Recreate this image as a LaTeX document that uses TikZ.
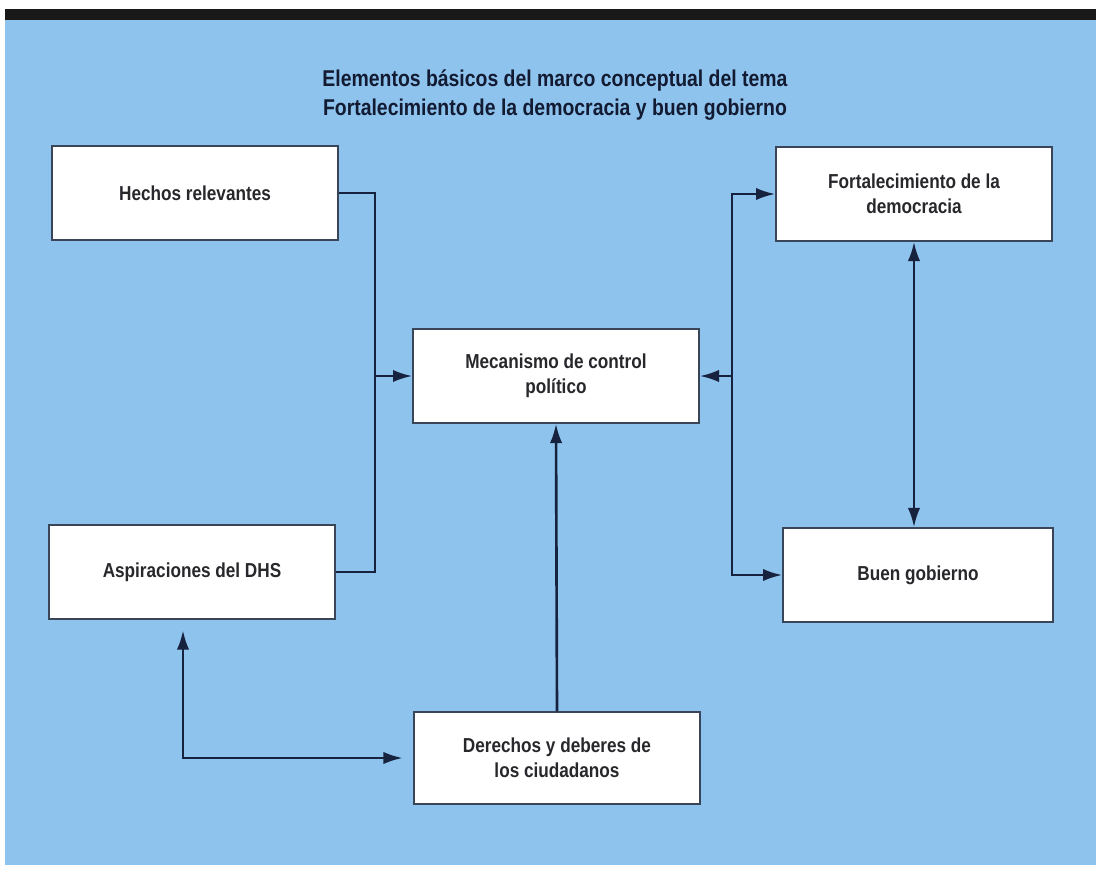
\documentclass[tikz,border=0pt]{standalone}
\usepackage{fontspec}
\setmainfont{Liberation Sans}[FakeStretch=0.85]
\usepackage{tikz}
\usetikzlibrary{arrows.meta,positioning,calc}
\usepackage{xcolor}
\definecolor{bgblue}{RGB}{142,195,238}
\definecolor{navy}{RGB}{22,34,62}
\definecolor{boxline}{RGB}{58,70,88}
\definecolor{txtgray}{RGB}{40,40,44}

\begin{document}
\begin{tikzpicture}[x=0.02cm,y=-0.02cm,>={Latex[length=11pt,width=7pt]}, every node/.style={font=\bfseries\fontsize{11.5}{14}\selectfont}]
\tikzstyle{box}=[draw=boxline,line width=0.8pt,fill=white,text=txtgray,align=center,minimum width=5.72cm,minimum height=1.88cm,inner sep=2pt]
\tikzstyle{conn}=[draw=navy,line width=1.5pt]
\useasboundingbox (0,0) rectangle (1096,869);
\fill[white] (0,0) rectangle (1096,869);
\fill[bgblue] (5,19) rectangle (1096,865);
\fill[black!90] (5,9) rectangle (1096,20);
% title
\node[text=navy!80!black,align=center,font=\bfseries\fontsize{13}{16}\selectfont] (title) at (555,95) {Elementos básicos del marco conceptual del tema\\Fortalecimiento de la democracia y buen gobierno};
% boxes
\node[box] (hechos) at (195,193) {Hechos relevantes};
\node[box] (asp) at (192,572) {Aspiraciones del DHS};
\node[box] (mec) at (556,376) {Mecanismo de control\\político};
\node[box,minimum width=5.52cm] (fort) at (914,194) {Fortalecimiento de la\\democracia};
\node[box,minimum width=5.4cm] (buen) at (918,575) {Buen gobierno};
\node[box,minimum height=1.84cm] (der) at (557,758) {Derechos y deberes de\\los ciudadanos};
% junctions
\coordinate (busL) at (375,376);
\coordinate (busR) at (732,376);
\coordinate (corner) at (183,762);
\draw[conn] (hechos.east) -| (busL);
\draw[conn] (asp.east) -| (busL);
\draw[conn,->] (busL) -- (mec.west);
\draw[conn,->] (busR) -- (mec.east);
\draw[conn,->] (busR) |- (fort.west);
\draw[conn,->] (busR) |- (buen.west);
\draw[conn,<->] (fort.south) -- (buen.north -| fort.south);
\draw[conn,->] (der.north) -- (mec.south);
\draw[conn,<->,shorten <=6pt,shorten >=6pt] (asp.south -| corner) |- (der.west);
\end{tikzpicture}
\end{document}
